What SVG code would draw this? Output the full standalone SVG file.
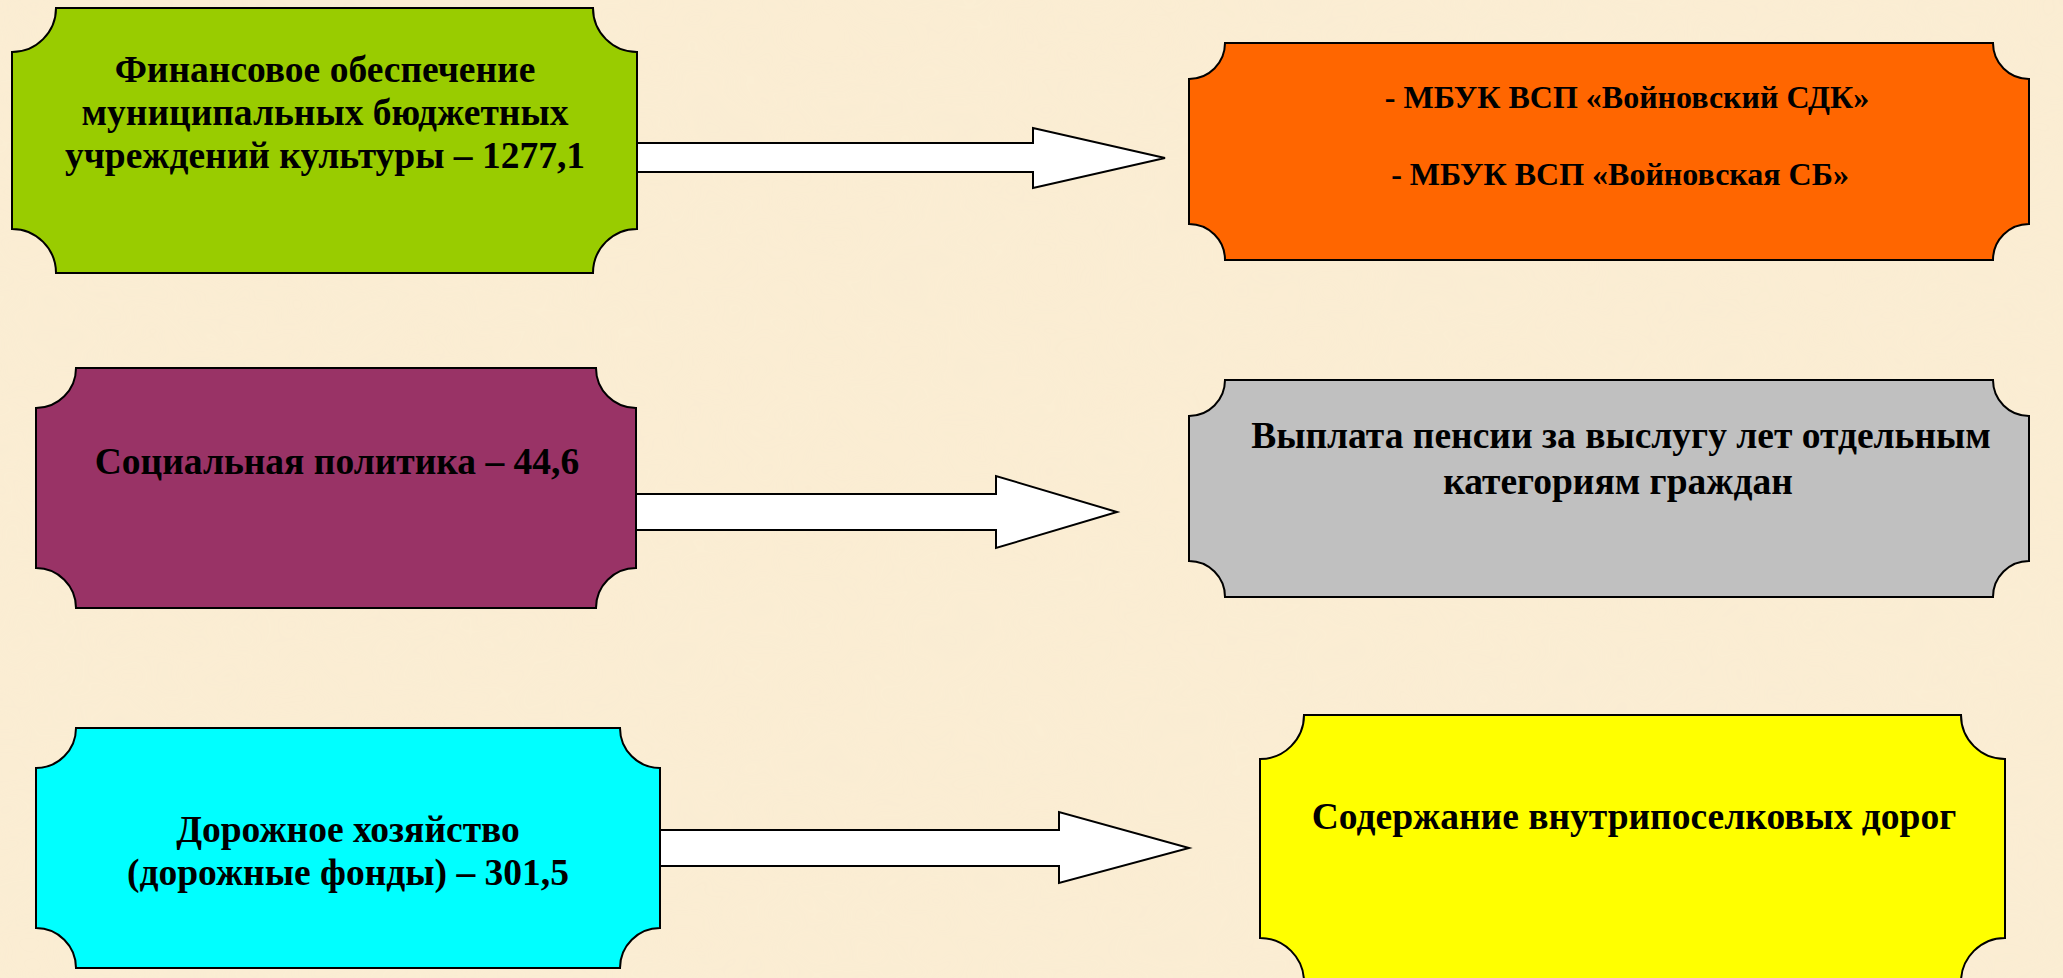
<svg xmlns="http://www.w3.org/2000/svg" width="2063" height="978" viewBox="0 0 2063 978">
<style>
.box{stroke:#000;stroke-width:2}
.arrow{fill:#fff;stroke:#000;stroke-width:2;stroke-linejoin:miter}
.t{font-family:"Liberation Serif","Times New Roman",serif;font-weight:bold;fill:#000;text-anchor:middle}
.big{font-size:37.5px}
.mid{font-size:32px}
</style>
<defs>
<filter id="parch" x="0" y="0" width="100%" height="100%">
<feTurbulence type="fractalNoise" baseFrequency="0.008 0.012" numOctaves="3" seed="4" result="n"/>
<feColorMatrix in="n" type="matrix" values="0 0 0 0 0.93  0 0 0 0 0.84  0 0 0 0 0.66  0 0 0 0.6 -0.1" />
</filter>
</defs>
<rect width="2063" height="978" fill="#FBEDD3"/>
<rect width="2063" height="978" filter="url(#parch)" opacity="0.5"/>
<g id="connectors">
<polygon class="arrow" points="630,143 1033,143 1033,128 1165,158 1033,188 1033,172 630,172"/>
<polygon class="arrow" points="630,494 996,494 996,476 1117,512 996,548 996,530 630,530"/>
<polygon class="arrow" points="650,830 1059,830 1059,812 1189,848 1059,883 1059,866 650,866"/>
</g>
<g id="node-finance">
<path class="box" fill="#99CC00" d="M56,8 H593 A44,44 0 0 0 637,52 V229 A44,44 0 0 0 593,273 H56 A44,44 0 0 0 12,229 V52 A44,44 0 0 0 56,8 Z"/>
<text class="t big" x="325" y="82">Финансовое обеспечение</text>
<text class="t big" x="325" y="125">муниципальных бюджетных</text>
<text class="t big" x="325" y="168">учреждений культуры – 1277,1</text>
</g>
<g id="node-mbuk">
<path class="box" fill="#FF6600" d="M1225,43 H1993 A36,36 0 0 0 2029,79 V224 A36,36 0 0 0 1993,260 H1225 A36,36 0 0 0 1189,224 V79 A36,36 0 0 0 1225,43 Z"/>
<text class="t mid" x="1627" y="108">- МБУК ВСП «Войновский СДК»</text>
<text class="t mid" x="1620" y="185">- МБУК ВСП «Войновская СБ»</text>
</g>
<g id="node-social">
<path class="box" fill="#993366" d="M76,368 H596 A40,40 0 0 0 636,408 V568 A40,40 0 0 0 596,608 H76 A40,40 0 0 0 36,568 V408 A40,40 0 0 0 76,368 Z"/>
<text class="t big" x="337" y="474">Социальная политика – 44,6</text>
</g>
<g id="node-pension">
<path class="box" fill="#C0C0C0" d="M1225,380 H1993 A36,36 0 0 0 2029,416 V561 A36,36 0 0 0 1993,597 H1225 A36,36 0 0 0 1189,561 V416 A36,36 0 0 0 1225,380 Z"/>
<text class="t big" x="1621" y="448">Выплата пенсии за выслугу лет отдельным</text>
<text class="t big" x="1618" y="494">категориям граждан</text>
</g>
<g id="node-road">
<path class="box" fill="#00FFFF" d="M76,728 H620 A40,40 0 0 0 660,768 V928 A40,40 0 0 0 620,968 H76 A40,40 0 0 0 36,928 V768 A40,40 0 0 0 76,728 Z"/>
<text class="t big" x="348" y="842">Дорожное хозяйство</text>
<text class="t big" x="348" y="885">(дорожные фонды) – 301,5</text>
</g>
<g id="node-roads-maint">
<path class="box" fill="#FFFF00" d="M1304,715 H1961 A44,44 0 0 0 2005,759 V938 A44,44 0 0 0 1961,982 H1304 A44,44 0 0 0 1260,938 V759 A44,44 0 0 0 1304,715 Z"/>
<text class="t big" x="1634" y="829">Содержание внутрипоселковых дорог</text>
</g>
</svg>
